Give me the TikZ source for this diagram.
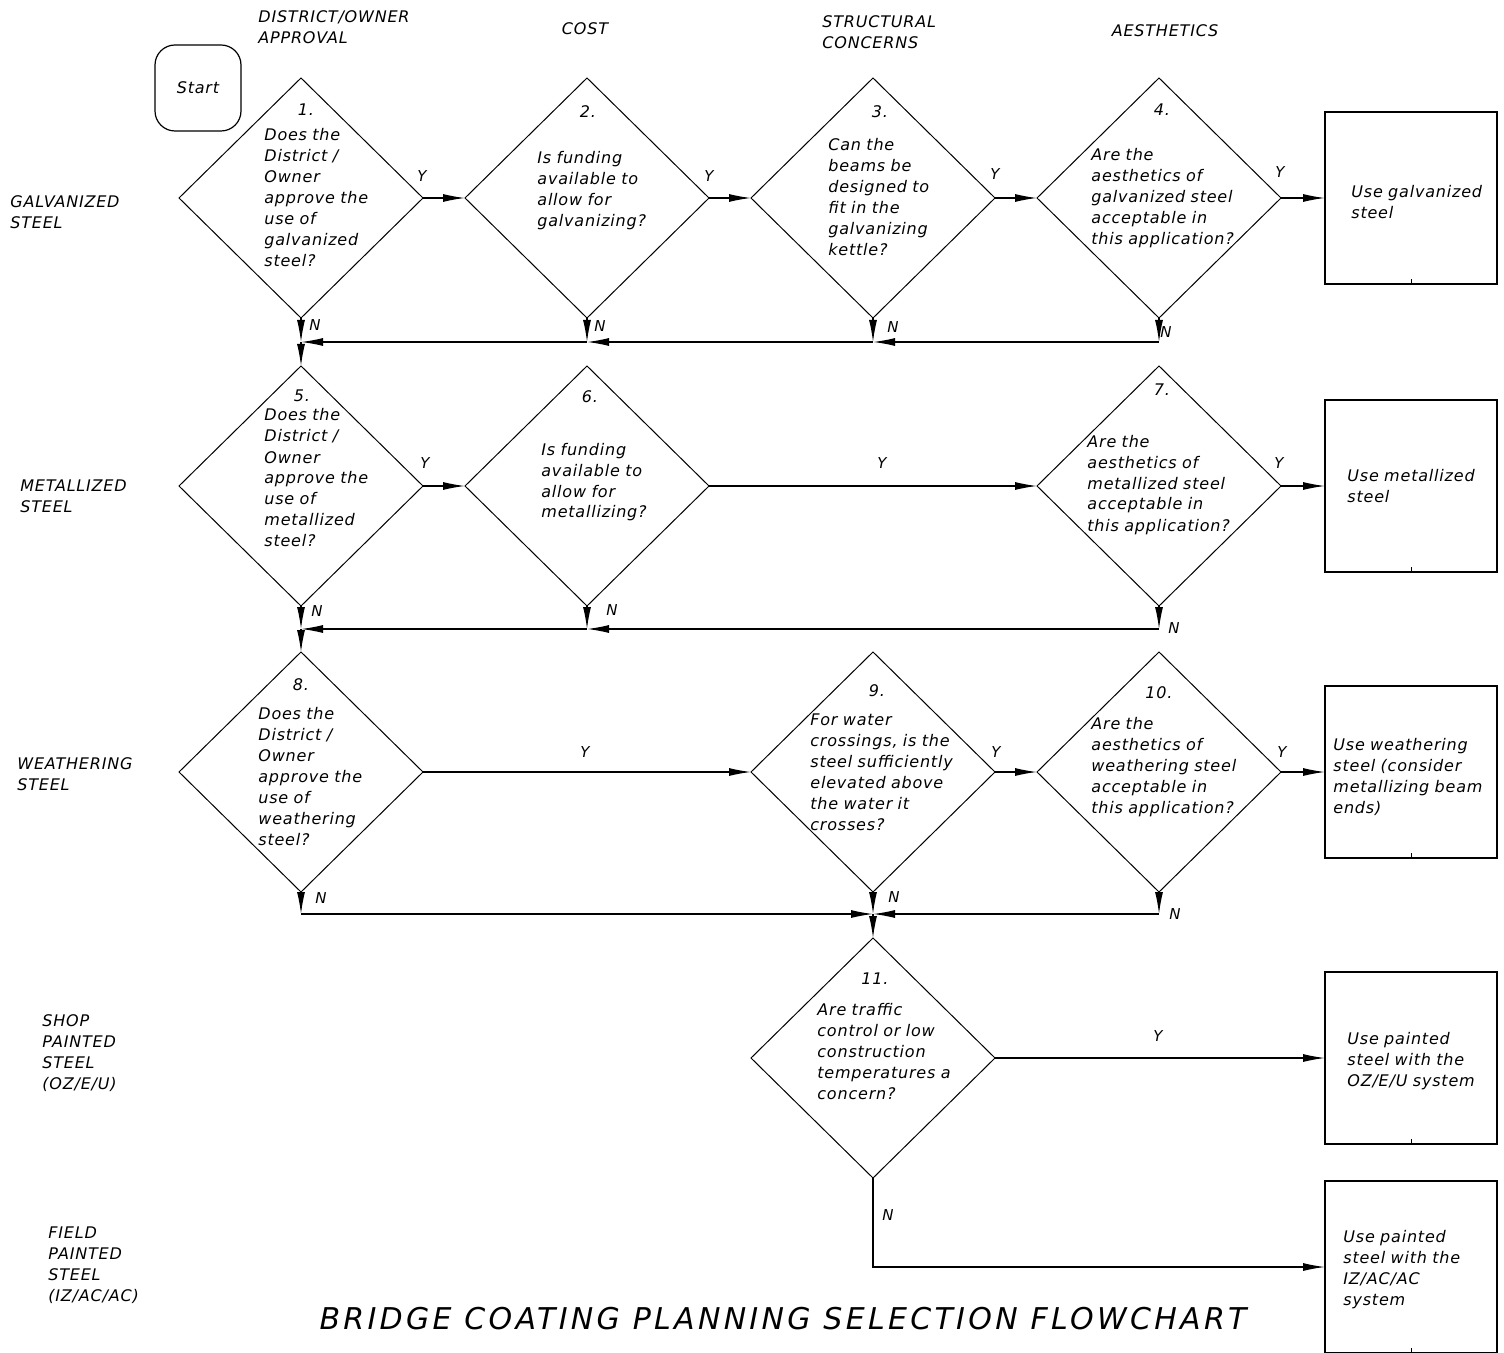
\documentclass[tikz,border=0pt]{standalone}
\usepackage{fontspec}
\usetikzlibrary{shapes.geometric,arrows.meta}
\newfontfamily\cad[LetterSpace=5]{DejaVu Sans}
\newfontfamily\cadtitle[LetterSpace=11]{DejaVu Sans}
\tikzset{
  dia/.style={draw, diamond, minimum width=122pt, minimum height=120pt, inner sep=0pt, outer sep=0pt, line width=0.5pt},
  endbox/.style={draw, rectangle, minimum width=86pt, minimum height=86pt, inner sep=0pt, outer sep=0pt, line width=0.6pt},
  conn/.style={line width=0.6pt, -{Latex[length=11pt,width=4pt]}},
  txt/.style={font=\cad\itshape\fontsize{8}{10.5}\selectfont, text width=100pt, align=left, anchor=base west, inner sep=0pt},
  num/.style={font=\cad\itshape\fontsize{8}{10.5}\selectfont, anchor=base, inner sep=0pt},
  yn/.style={font=\cad\itshape\fontsize{7.5}{9}\selectfont, inner sep=0pt}
}
\begin{document}
\begin{tikzpicture}[x=0.5pt,y=-0.5pt]
\useasboundingbox (0,0) rectangle (1504,1353);

% Start
\node[draw, rectangle, rounded corners=10pt, minimum width=43pt, minimum height=43pt, line width=0.6pt, font=\cad\itshape\fontsize{8}{10.5}\selectfont] (start) at (198,88) {Start};

% headers
\node[txt] (h1) at (258,23) {DISTRICT/OWNER\\APPROVAL};
\node[num] (h2) at (585,35) {COST};
\node[txt] (h3) at (822,28) {STRUCTURAL\\CONCERNS};
\node[num] (h4) at (1165,37) {AESTHETICS};

% row labels
\node[txt] (r1) at (10,208) {GALVANIZED\\STEEL};
\node[txt] (r2) at (20,491) {METALLIZED\\STEEL};
\node[txt] (r3) at (17,769) {WEATHERING\\STEEL};
\node[txt] (r4) at (42,1026) {SHOP\\PAINTED\\STEEL\\(OZ/E/U)};
\node[txt] (r5) at (48,1238) {FIELD\\PAINTED\\STEEL\\(IZ/AC/AC)};

% diamonds
\node[dia] (d1) at (301,198) {};
\node[dia] (d2) at (587,198) {};
\node[dia] (d3) at (873,198) {};
\node[dia] (d4) at (1159,198) {};
\node[dia] (d5) at (301,486) {};
\node[dia] (d6) at (587,486) {};
\node[dia] (d7) at (1159,486) {};
\node[dia] (d8) at (301,772) {};
\node[dia] (d9) at (873,772) {};
\node[dia] (d10) at (1159,772) {};
\node[dia] (d11) at (873,1058) {};

% end boxes
\node[endbox] (b1) at (1411,198) {};
\node[endbox] (b2) at (1411,486) {};
\node[endbox] (b3) at (1411,772) {};
\node[endbox] (b4) at (1411,1058) {};
\node[endbox] (b5) at (1411,1267) {};
\foreach \b in {b1,b2,b3,b4,b5} \draw[line width=0.4pt] (\b.south) -- ++(0,-5);

% diamond texts
\node[num] (n1) at (306,116) {1.};
\node[txt] (t1) at (264,141) {Does the\\District /\\Owner\\approve the\\use of\\galvanized\\steel?};
\node[num] (n2) at (588,118) {2.};
\node[txt] (t2) at (537,164) {Is funding\\available to\\allow for\\galvanizing?};
\node[num] (n3) at (880,118) {3.};
\node[txt] (t3) at (828,151) {Can the\\beams be\\designed to\\fit in the\\galvanizing\\kettle?};
\node[num] (n4) at (1162,116) {4.};
\node[txt] (t4) at (1091,161) {Are the\\aesthetics of\\galvanized steel\\acceptable in\\this application?};
\node[num] (n5) at (302,401) {5.};
\node[txt] (t5) at (264,421) {Does the\\District /\\Owner\\approve the\\use of\\metallized\\steel?};
\node[num] (n6) at (590,403) {6.};
\node[txt] (t6) at (541,455) {Is funding\\available to\\allow for\\metallizing?};
\node[num] (n7) at (1162,396) {7.};
\node[txt] (t7) at (1087,447) {Are the\\aesthetics of\\metallized steel\\acceptable in\\this application?};
\node[num] (n8) at (301,690) {8.};
\node[txt] (t8) at (258,719) {Does the\\District /\\Owner\\approve the\\use of\\weathering\\steel?};
\node[num] (n9) at (877,696) {9.};
\node[txt] (t9) at (810,725) {For water\\crossings, is the\\steel sufficiently\\elevated above\\the water it\\crosses?};
\node[num] (n10) at (1159,698) {10.};
\node[txt] (t10) at (1091,729) {Are the\\aesthetics of\\weathering steel\\acceptable in\\this application?};
\node[num] (n11) at (875,984) {11.};
\node[txt] (t11) at (817,1015) {Are traffic\\control or low\\construction\\temperatures a\\concern?};

% box texts
\node[txt] (tb1) at (1351,198) {Use galvanized\\steel};
\node[txt] (tb2) at (1347,481) {Use metallized\\steel};
\node[txt] (tb3) at (1333,750) {Use weathering\\steel (consider\\metallizing beam\\ends)};
\node[txt] (tb4) at (1347,1044) {Use painted\\steel with the\\OZ/E/U system};
\node[txt] (tb5) at (1343,1242) {Use painted\\steel with the\\IZ/AC/AC\\system};

% Y connectors
\draw[conn] (d1.east) -- (d2.west);
\draw[conn] (d2.east) -- (d3.west);
\draw[conn] (d3.east) -- (d4.west);
\draw[conn] (d4.east) -- (b1.west);
\draw[conn] (d5.east) -- (d6.west);
\draw[conn] (d6.east) -- (d7.west);
\draw[conn] (d7.east) -- (b2.west);
\draw[conn] (d8.east) -- (d9.west);
\draw[conn] (d9.east) -- (d10.west);
\draw[conn] (d10.east) -- (b3.west);
\draw[conn] (d11.east) -- (b4.west);

% junctions
\coordinate (j1) at (301,342);
\coordinate (j2) at (587,342);
\coordinate (j3) at (873,342);
\coordinate (j4) at (1159,342);
\coordinate (j5) at (301,629);
\coordinate (j6) at (587,629);
\coordinate (j7) at (1159,629);
\coordinate (j8) at (301,914);
\coordinate (j9) at (873,914);
\coordinate (j10) at (1159,914);

% N connectors row 1
\draw[conn] (d1.south) -- (j1);
\draw[conn] (d2.south) -- (j2);
\draw[conn] (d3.south) -- (j3);
\draw[conn] (d4.south) -- (j4);
\draw[conn] (j4) -- (j3);
\draw[conn] (j3) -- (j2);
\draw[conn] (j2) -- (j1);
\draw[conn] (j1) -- (d5.north);
% row 2
\draw[conn] (d5.south) -- (j5);
\draw[conn] (d6.south) -- (j6);
\draw[conn] (d7.south) -- (j7);
\draw[conn] (j7) -- (j6);
\draw[conn] (j6) -- (j5);
\draw[conn] (j5) -- (d8.north);
% row 3
\draw[conn] (d8.south) -- (j8);
\draw[conn] (j8) -- (j9);
\draw[conn] (d9.south) -- (j9);
\draw[conn] (d10.south) -- (j10);
\draw[conn] (j10) -- (j9);
\draw[conn] (j9) -- (d11.north);
% 11 N
\draw[conn] (d11.south) |- (b5.west);

% Y labels
\node[yn] (y1) at (422,176) {Y};
\node[yn] (y2) at (709,176) {Y};
\node[yn] (y3) at (995,174) {Y};
\node[yn] (y4) at (1280,172) {Y};
\node[yn] (y5) at (425,463) {Y};
\node[yn] (y6) at (882,463) {Y};
\node[yn] (y7) at (1279,463) {Y};
\node[yn] (y8) at (585,752) {Y};
\node[yn] (y9) at (996,752) {Y};
\node[yn] (y10) at (1282,752) {Y};
\node[yn] (y11) at (1158,1036) {Y};
% N labels
\node[yn] (m1) at (315,325) {N};
\node[yn] (m2) at (600,326) {N};
\node[yn] (m3) at (893,327) {N};
\node[yn] (m4) at (1166,332) {N};
\node[yn] (m5) at (317,611) {N};
\node[yn] (m6) at (612,610) {N};
\node[yn] (m7) at (1174,628) {N};
\node[yn] (m8) at (321,898) {N};
\node[yn] (m9) at (894,897) {N};
\node[yn] (m10) at (1175,914) {N};
\node[yn] (m11) at (888,1215) {N};

% title
\node[font=\cadtitle\itshape\fontsize{15}{18}\selectfont, anchor=base, inner sep=0pt] (title) at (783,1329) {BRIDGE COATING PLANNING SELECTION FLOWCHART};
\end{tikzpicture}
\end{document}
